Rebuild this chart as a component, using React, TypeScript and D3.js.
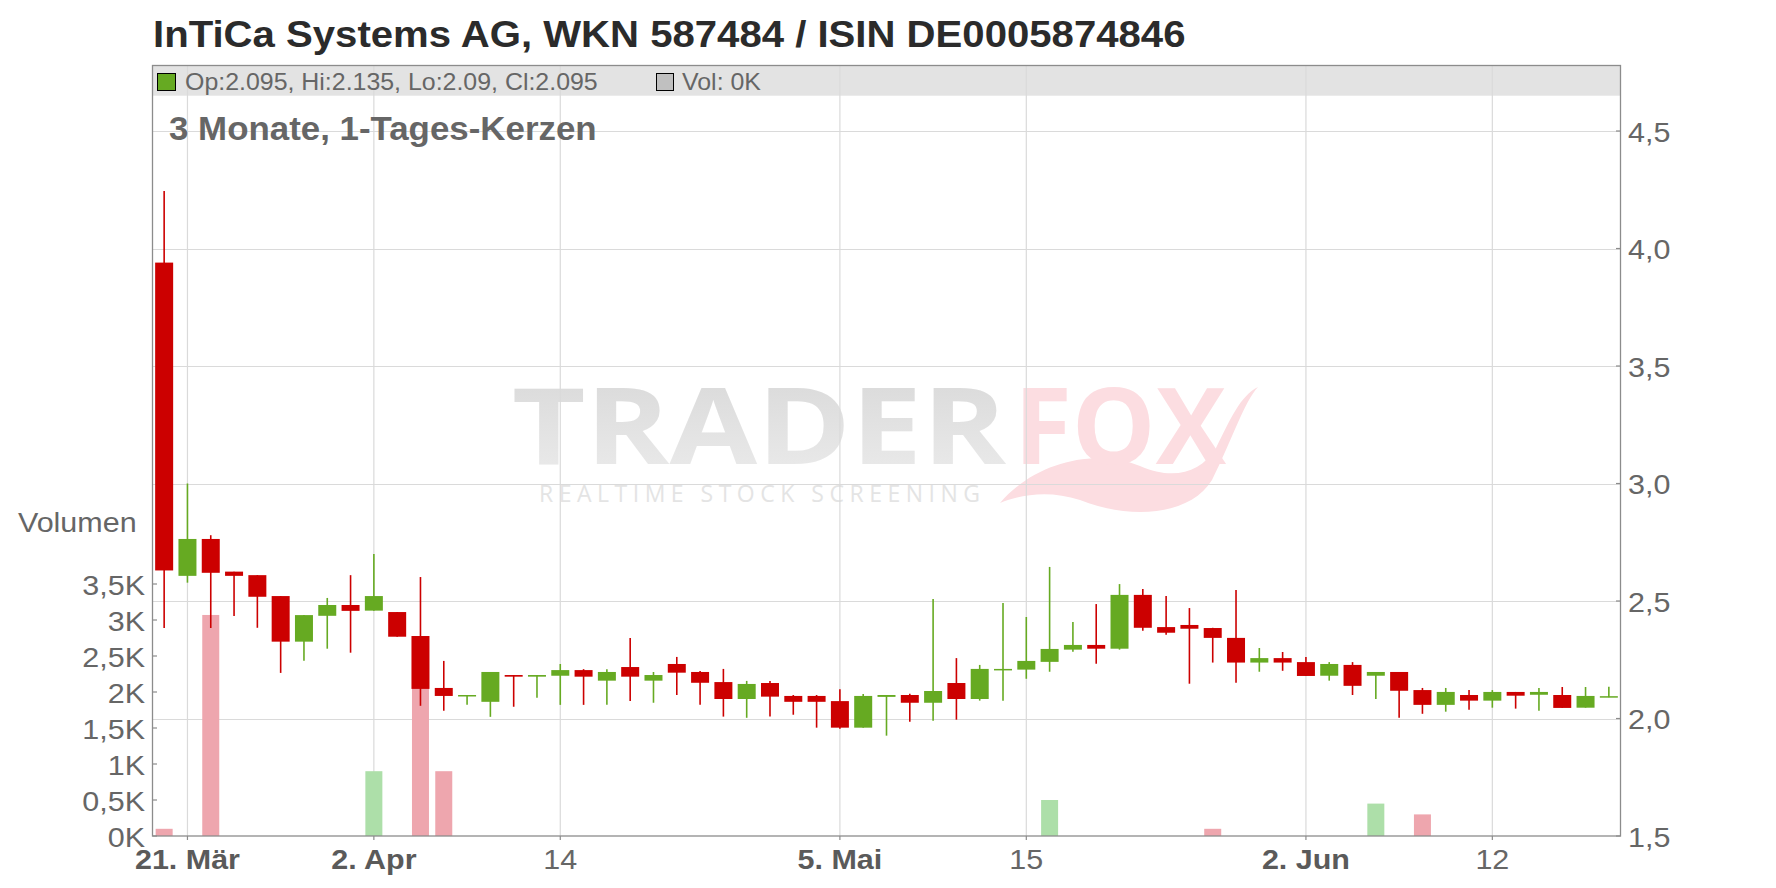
import React from "react";
import * as d3 from "d3";

const dates: string[] = [
  "2025-03-20","2025-03-21","2025-03-24","2025-03-25","2025-03-26","2025-03-27","2025-03-28","2025-03-31",
  "2025-04-01","2025-04-02","2025-04-03","2025-04-04","2025-04-07","2025-04-08","2025-04-09","2025-04-10","2025-04-11",
  "2025-04-14","2025-04-15","2025-04-16","2025-04-17","2025-04-22","2025-04-23","2025-04-24","2025-04-25","2025-04-28","2025-04-29","2025-04-30",
  "2025-05-02","2025-05-05","2025-05-06","2025-05-07","2025-05-08","2025-05-09","2025-05-12","2025-05-13","2025-05-14","2025-05-15","2025-05-16",
  "2025-05-19","2025-05-20","2025-05-21","2025-05-22","2025-05-23","2025-05-26","2025-05-27","2025-05-28","2025-05-29","2025-05-30",
  "2025-06-02","2025-06-03","2025-06-04","2025-06-05","2025-06-06","2025-06-09","2025-06-10","2025-06-11","2025-06-12","2025-06-13",
  "2025-06-16","2025-06-17","2025-06-18","2025-06-19",
];

const openP: number[] = [
  3.94, 2.607, 2.764, 2.625, 2.61, 2.521, 2.327, 2.437, 2.483, 2.459,
  2.453, 2.351, 2.13, 2.096, 2.071, 2.185, 2.178, 2.182, 2.206, 2.161,
  2.219, 2.161, 2.232, 2.198, 2.155, 2.083, 2.151, 2.096, 2.096, 2.074,
  1.961, 2.092, 2.1, 2.067, 2.151, 2.083, 2.207, 2.208, 2.241, 2.293,
  2.313, 2.297, 2.526, 2.389, 2.398, 2.385, 2.343, 2.238, 2.257, 2.24,
  2.182, 2.228, 2.182, 2.198, 2.121, 2.058, 2.1, 2.076, 2.113, 2.101,
  2.1, 2.046, 2.095,
];
const highP: number[] = [
  4.245, 3.0, 2.78, 2.625, 2.61, 2.521, 2.44, 2.513, 2.61, 2.7,
  2.453, 2.602, 2.245, 2.1, 2.198, 2.185, 2.185, 2.232, 2.21, 2.21,
  2.343, 2.198, 2.262, 2.202, 2.211, 2.16, 2.16, 2.1, 2.1, 2.125,
  2.104, 2.1, 2.105, 2.509, 2.257, 2.228, 2.491, 2.432, 2.645, 2.411,
  2.487, 2.572, 2.551, 2.521, 2.47, 2.386, 2.547, 2.3, 2.283, 2.262,
  2.24, 2.24, 2.198, 2.198, 2.13, 2.13, 2.121, 2.121, 2.113, 2.13,
  2.134, 2.134, 2.135,
];
const lowP: number[] = [
  2.385, 2.578, 2.385, 2.436, 2.386, 2.194, 2.246, 2.297, 2.28, 2.459,
  2.348, 2.054, 2.033, 2.058, 2.007, 2.05, 2.088, 2.058, 2.058, 2.058,
  2.075, 2.067, 2.1, 2.058, 2.008, 2.003, 2.008, 2.016, 1.961, 1.956,
  1.961, 1.927, 1.986, 1.99, 1.995, 2.076, 2.076, 2.169, 2.199, 2.284,
  2.233, 2.293, 2.373, 2.356, 2.148, 2.238, 2.152, 2.199, 2.203, 2.181,
  2.161, 2.1, 2.083, 2.003, 2.02, 2.029, 2.037, 2.046, 2.042, 2.033,
  2.045, 2.046, 2.09,
];
const closeP: number[] = [
  2.63, 2.764, 2.62, 2.607, 2.518, 2.327, 2.44, 2.483, 2.458, 2.521,
  2.348, 2.126, 2.096, 2.1, 2.198, 2.178, 2.185, 2.206, 2.178, 2.198,
  2.178, 2.185, 2.195, 2.152, 2.083, 2.147, 2.093, 2.071, 2.071, 1.961,
  2.096, 2.1, 2.067, 2.117, 2.083, 2.211, 2.211, 2.245, 2.296, 2.313,
  2.297, 2.526, 2.386, 2.365, 2.382, 2.343, 2.238, 2.257, 2.238, 2.181,
  2.232, 2.139, 2.198, 2.118, 2.058, 2.113, 2.076, 2.113, 2.097, 2.113,
  2.045, 2.096, 2.095,
];
const volume: number[] = [
  100, 0, 3070, 0, 0, 0, 0, 0, 0, 900,
  0, 2400, 900, 0, 0, 0, 0, 0, 0, 0,
  0, 0, 0, 0, 0, 0, 0, 0, 0, 0,
  0, 0, 0, 0, 0, 0, 0, 0, 500, 0,
  0, 0, 0, 0, 0, 100, 0, 0, 0, 0,
  0, 0, 450, 0, 300, 0, 0, 0, 0, 0,
  0, 0, 0,
];

const priceTicks: number[] = [1.5, 2.0, 2.5, 3.0, 3.5, 4.0, 4.5];
const priceTickLabels: string[] = ["1,5", "2,0", "2,5", "3,0", "3,5", "4,0", "4,5"];
const volTicks: number[] = [0, 500, 1000, 1500, 2000, 2500, 3000, 3500];
const volTickLabels: string[] = ["0K", "0,5K", "1K", "1,5K", "2K", "2,5K", "3K", "3,5K"];
const xTickDates: string[] = ["2025-03-21", "2025-04-02", "2025-04-14", "2025-05-05", "2025-05-15", "2025-06-02", "2025-06-12"];
const xTickLabels: string[] = ["21. Mär", "2. Apr", "14", "5. Mai", "15", "2. Jun", "12"];
const xTickBold: boolean[] = [true, true, false, true, false, true, false];

const W = 1776;
const H = 888;
const L = 152.5;
const R = 1620.5;
const TOP = 65.5;
const HEADER_B = 95.7;
const B = 836;
const FONT = "'Liberation Sans', Arial, Helvetica, sans-serif";
const SX = 1.07;
const RED = "#cc0000";
const GREEN = "#66aa22";
const PINK = "#eea6ae";
const LGREEN = "#addfa9";
const GRID = "#dadada";
const TXT = "#666666";

const x = d3.scalePoint<string>().domain(dates).range([L, R]).padding(0.5);
const yP = d3.scaleLinear().domain([1.5, 4.5]).range([B, 131]);
const yV = d3.scaleLinear().domain([0, 3500]).range([B, 584]);

function T(props: {
  x: number; y: number; size: number; anchor?: string; weight?: string; fill?: string; children: React.ReactNode;
}) {
  return (
    <text
      transform={`translate(${props.x},${props.y}) scale(${SX},1)`}
      fontSize={props.size}
      fontFamily={FONT}
      fontWeight={props.weight || "normal"}
      textAnchor={props.anchor || "start"}
      fill={props.fill || TXT}
    >
      {props.children}
    </text>
  );
}

export default function App() {
  const step = x.step();
  const bodyW = 18;
  const barW = 17;

  const tailPath =
    "M 1000 503 C 1035 462, 1095 448, 1140 466 C 1172 480, 1200 474, 1216 448 " +
    "C 1230 420, 1240 396, 1258 387 C 1244 402, 1232 440, 1212 480 " +
    "C 1190 516, 1130 520, 1080 500 C 1050 490, 1022 494, 1000 503 Z";

  return (
    <svg width={W} height={H} style={{ position: "absolute", left: 0, top: 0, background: "#fff" }}>
      <defs>
        <linearGradient id="wmGrey" x1="0" y1="0" x2="0" y2="1">
          <stop offset="0" stopColor="#d6d6d6" />
          <stop offset="1" stopColor="#ededed" />
        </linearGradient>
      </defs>
      <rect x={0} y={0} width={W} height={H} fill="#fff" />

      {/* title */}
      <T x={153} y={47} size={37.5} weight="bold" fill="#2b2b2b">
        InTiCa Systems AG, WKN 587484 / ISIN DE0005874846
      </T>

      {/* header band */}
      <rect x={L} y={TOP} width={R - L} height={HEADER_B - TOP} fill="#e3e3e3" />

      {/* watermark */}
      <g>
        <text x={512} y={464} fontSize={106} fontWeight="bold" fontFamily="'Open Sans', sans-serif"
          fill="url(#wmGrey)" textLength={494} lengthAdjust="spacingAndGlyphs">TRADER</text>
        <path d={tailPath} fill="#fcdde1" />
        <text x={1014} y={464} fontSize={106} fontWeight="bold" fontFamily="'Open Sans', sans-serif"
          fill="#fcdde1" textLength={212} lengthAdjust="spacingAndGlyphs">FOX</text>
        <text x={539} y={502} fontSize={23} fontFamily="'Open Sans', sans-serif"
          fill="#e4e4e4" textLength={441} lengthAdjust="spacing">REALTIME STOCK SCREENING</text>
      </g>

      {/* grid */}
      {priceTicks.slice(1).map((t, i) => (
        <line key={"hg" + i} x1={L} x2={R} y1={Math.round(yP(t)) + 0.5} y2={Math.round(yP(t)) + 0.5}
          stroke={GRID} strokeWidth={1.2} />
      ))}
      {xTickDates.map((d, i) => (
        <line key={"vg" + i} x1={x(d)!} x2={x(d)!} y1={TOP} y2={B} stroke={GRID} strokeWidth={1.2} />
      ))}

      {/* header legend */}
      <rect x={157.5} y={73.5} width={18} height={17} fill={GREEN} stroke="#000" strokeWidth={1} />
      <T x={185} y={90} size={23.3}>Op:2.095, Hi:2.135, Lo:2.09, Cl:2.095</T>
      <rect x={656.5} y={73.5} width={17} height={17} fill="#c0c0c0" stroke="#000" strokeWidth={1} />
      <T x={682} y={90} size={23.3}>Vol: 0K</T>

      <T x={169} y={140} size={32.6} weight="bold">3 Monate, 1-Tages-Kerzen</T>

      {/* volume bars */}
      {dates.map((d, i) =>
        volume[i] > 0 ? (
          <rect key={"v" + i} x={x(d)! - barW / 2} y={yV(volume[i])} width={barW}
            height={B - yV(volume[i])} fill={closeP[i] >= openP[i] ? LGREEN : PINK} />
        ) : null
      )}

      {/* candles */}
      {dates.map((d, i) => {
        const up = closeP[i] >= openP[i];
        const c = up ? GREEN : RED;
        const cx = x(d)!;
        const yTop = yP(Math.max(openP[i], closeP[i]));
        const yBot = yP(Math.min(openP[i], closeP[i]));
        const h = Math.max(yBot - yTop, 1.5);
        return (
          <g key={"c" + i}>
            <line x1={cx} x2={cx} y1={yP(highP[i])} y2={yP(lowP[i])} stroke={c} strokeWidth={1.6} />
            <rect x={cx - bodyW / 2} y={yTop} width={bodyW} height={h} fill={c} />
          </g>
        );
      })}

      {/* frame */}
      <rect x={L} y={TOP} width={R - L} height={B - TOP} fill="none" stroke="#8c8c8c" strokeWidth={1.3} />

      {/* right price axis */}
      {priceTicks.map((t, i) => (
        <g key={"pt" + i}>
          <line x1={R - 4.5} x2={R} y1={yP(t)} y2={yP(t)} stroke="#8c8c8c" strokeWidth={1.2} />
          <T x={1628} y={yP(t) + 10.5} size={28.5}>{priceTickLabels[i]}</T>
        </g>
      ))}

      {/* left volume axis */}
      {volTicks.map((t, i) => (
        <g key={"vt" + i}>
          <line x1={L} x2={L + 4.5} y1={yV(t)} y2={yV(t)} stroke="#8c8c8c" strokeWidth={1.2} />
          <T x={145} y={yV(t) + 10.5} size={28.5} anchor="end">{volTickLabels[i]}</T>
        </g>
      ))}
      <T x={18} y={532} size={28.5}>Volumen</T>

      {/* bottom date axis */}
      {xTickDates.map((d, i) => (
        <g key={"xt" + i}>
          <line x1={x(d)!} x2={x(d)!} y1={B} y2={B + 4} stroke="#8c8c8c" strokeWidth={1.2} />
          <T x={x(d)!} y={869} size={28.5} anchor="middle" weight={xTickBold[i] ? "bold" : "normal"}
            fill={xTickBold[i] ? "#5a5a5a" : TXT}>{xTickLabels[i]}</T>
        </g>
      ))}
    </svg>
  );
}
